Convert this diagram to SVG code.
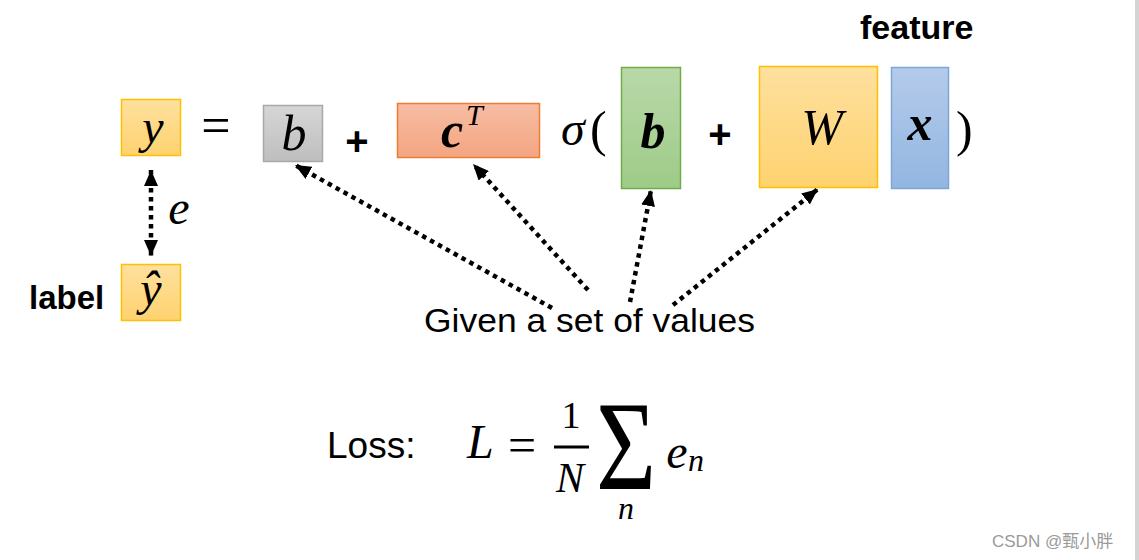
<svg xmlns="http://www.w3.org/2000/svg" width="1139" height="560" viewBox="0 0 1139 560">
<style>
.m{font-family:"Liberation Serif","DejaVu Serif",serif;font-style:italic;fill:#000}
.mb{font-family:"Liberation Serif","DejaVu Serif",serif;font-style:italic;font-weight:bold;fill:#000}
.r{font-family:"Liberation Serif","DejaVu Serif",serif;fill:#000}
.s{font-family:"Liberation Sans",Arial,sans-serif;fill:#000}
.sb{font-family:"Liberation Sans",Arial,sans-serif;font-weight:bold;fill:#000}
.dot{fill:none;stroke:#000;stroke-width:4.5;stroke-dasharray:4.5 4.5}
</style>
<defs>
<linearGradient id="gy" x1="0" y1="0" x2="0" y2="1"><stop offset="0" stop-color="#fee09e"/><stop offset="1" stop-color="#fed26f"/></linearGradient>
<linearGradient id="gg" x1="0" y1="0" x2="0" y2="1"><stop offset="0" stop-color="#d6d6d6"/><stop offset="1" stop-color="#bebebe"/></linearGradient>
<linearGradient id="go" x1="0" y1="0" x2="0" y2="1"><stop offset="0" stop-color="#f7bda4"/><stop offset="1" stop-color="#f4a581"/></linearGradient>
<linearGradient id="gn" x1="0" y1="0" x2="0" y2="1"><stop offset="0" stop-color="#b9d8a9"/><stop offset="1" stop-color="#9ecb88"/></linearGradient>
<linearGradient id="gb" x1="0" y1="0" x2="0" y2="1"><stop offset="0" stop-color="#b5cbea"/><stop offset="1" stop-color="#92b6e1"/></linearGradient>
<marker id="ah" viewBox="0 0 16 14" refX="16" refY="7" markerWidth="16" markerHeight="14" markerUnits="userSpaceOnUse" orient="auto-start-reverse"><path d="M0,0 L16,7 L0,14 Z" fill="#000"/></marker>
</defs>
<rect x="1135" y="0" width="4" height="560" fill="#d4d4d4"/>
<g id="node-y">
<rect x="121.5" y="99.5" width="59" height="56" fill="url(#gy)" stroke="#ffc000" stroke-width="1.5"/>
<text class="m" x="153" y="143" font-size="48" text-anchor="middle">y</text>
</g>
<text class="r" x="216" y="143" font-size="52" text-anchor="middle">=</text>
<g id="node-b">
<rect x="263.5" y="105.5" width="59" height="56" fill="url(#gg)" stroke="#a8a8a8" stroke-width="1.5"/>
<text class="m" x="294" y="150" font-size="50" text-anchor="middle">b</text>
</g>
<text class="sb" x="357" y="155" font-size="40" text-anchor="middle">+</text>
<g id="node-cT">
<rect x="397.5" y="103.5" width="142" height="54" fill="url(#go)" stroke="#ed7d31" stroke-width="1.5"/>
<text class="mb" x="441" y="147" font-size="50">c</text>
<text class="m" x="466" y="125" font-size="30">T</text>
</g>
<text class="m" x="561" y="145" font-size="48">σ</text>
<text class="r" x="590" y="146" font-size="50">(</text>
<g id="node-b2">
<rect x="621.5" y="67.5" width="59" height="121" fill="url(#gn)" stroke="#70ad47" stroke-width="1.5"/>
<text class="mb" x="653" y="148" font-size="50" text-anchor="middle">b</text>
</g>
<text class="sb" x="720" y="148" font-size="40" text-anchor="middle">+</text>
<g id="node-W">
<rect x="759.5" y="66.5" width="118" height="121" fill="url(#gy)" stroke="#ffc000" stroke-width="1.5"/>
<text class="m" x="822" y="144" font-size="50" text-anchor="middle">W</text>
</g>
<g id="node-x">
<rect x="891.5" y="67.5" width="57" height="121" fill="url(#gb)" stroke="#7ca6da" stroke-width="1.5"/>
<text class="mb" x="920" y="140" font-size="50" text-anchor="middle">x</text>
</g>
<text class="r" x="956" y="146" font-size="50">)</text>
<text class="sb" x="860" y="39" font-size="34">feature</text>
<g id="node-yhat">
<rect x="121.5" y="264.5" width="59" height="56" fill="url(#gy)" stroke="#ffc000" stroke-width="1.5"/>
<text class="m" x="151" y="305" font-size="48" text-anchor="middle">ŷ</text>
</g>
<text class="sb" x="29" y="309" font-size="33">label</text>
<text class="m" x="179" y="224" font-size="48" text-anchor="middle">e</text>
<g id="node-given">
<text class="s" x="424" y="332" font-size="34" textLength="331" lengthAdjust="spacingAndGlyphs">Given a set of values</text>
</g>
<g id="connectors">
<path class="dot" d="M151,170 L151,256" marker-start="url(#ah)" marker-end="url(#ah)"/>
<path class="dot" d="M552,308 L295,165" marker-end="url(#ah)"/>
<path class="dot" d="M588,290 L473,164" marker-end="url(#ah)"/>
<path class="dot" d="M630,302 L651,190" marker-end="url(#ah)"/>
<path class="dot" d="M673,305 L818,189" marker-end="url(#ah)"/>
</g>
<g id="loss">
<text class="s" x="327" y="458" font-size="37">Loss:</text>
<text class="m" x="467" y="458" font-size="48">L</text>
<text class="r" x="522" y="462" font-size="50" text-anchor="middle">=</text>
<text class="r" x="571" y="428" font-size="38" text-anchor="middle">1</text>
<rect x="554" y="445.5" width="35" height="3" fill="#000"/>
<text class="m" x="570" y="492" font-size="42" text-anchor="middle">N</text>
<text class="r" transform="translate(626,489) scale(0.82,1)" x="0" y="0" font-size="126" text-anchor="middle">Σ</text>
<text class="m" x="626" y="519" font-size="32" text-anchor="middle">n</text>
<text class="m" x="677" y="468" font-size="48" text-anchor="middle">e</text>
<text class="m" x="688" y="471" font-size="32">n</text>
</g>
<text x="992" y="547" font-size="17" fill="#9a9a9a" font-family="'Liberation Sans','Noto Sans CJK SC',sans-serif">CSDN @甄小胖</text>
</svg>
